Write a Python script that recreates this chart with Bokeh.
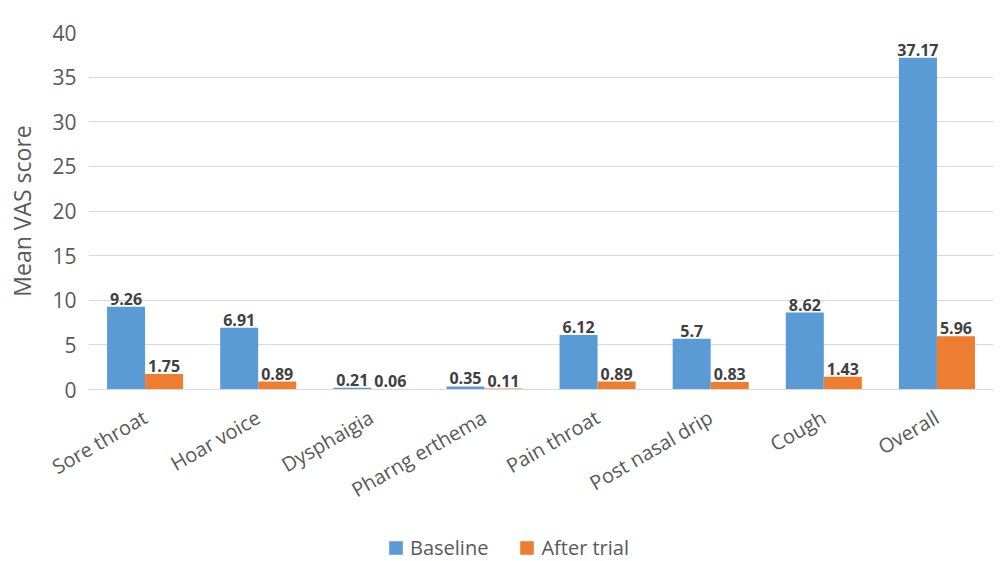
import math
from bokeh.plotting import figure
from bokeh.layouts import column
from bokeh.models import ColumnDataSource, Legend, LegendItem, FactorRange
from bokeh.transform import dodge
from bokeh.core.properties import value
from bokeh.embed import file_html
from bokeh.resources import INLINE

categories = ["Sore throat", "Hoar voice", "Dysphaigia", "Pharng erthema",
              "Pain throat", "Post nasal drip", "Cough", "Overall"]
baseline = [9.26, 6.91, 0.21, 0.35, 6.12, 5.7, 8.62, 37.17]
after_trial = [1.75, 0.89, 0.06, 0.11, 0.89, 0.83, 1.43, 5.96]
y_ticks = [0, 5, 10, 15, 20, 25, 30, 35, 40]
series_names = ["Baseline", "After trial"]

FONT = "Open Sans"
BLUE = "#5B9BD5"
ORANGE = "#ED7D31"
TEXT = "#595959"

src = ColumnDataSource(dict(
    cat=categories,
    base=baseline,
    after=after_trial,
    base_lbl=[f"{v:g}" for v in baseline],
    after_lbl=[f"{v:g}" for v in after_trial],
))

# main chart
p = figure(width=1002, height=520,
           x_range=FactorRange(*categories, range_padding=0),
           y_range=(0, 40), output_backend="svg", toolbar_location=None,
           min_border_left=88, min_border_right=9, min_border_top=32,
           min_border_bottom=131)
p.outline_line_color = None

bw = 0.336
p.vbar(x=dodge("cat", -bw / 2, range=p.x_range), top="base", width=bw,
       source=src, fill_color=BLUE, line_color=None)
p.vbar(x=dodge("cat", bw / 2, range=p.x_range), top="after", width=bw,
       source=src, fill_color=ORANGE, line_color=None)

for off, col, lbl in [(-bw / 2, "base", "base_lbl"), (bw / 2, "after", "after_lbl")]:
    p.text(x=dodge("cat", off, range=p.x_range), y=col, text=lbl, source=src,
           text_font=value(FONT), text_font_style="bold", text_font_size="16px",
           text_color="#404040", text_align="center", text_baseline="bottom",
           y_offset=-2)

p.xgrid.grid_line_color = None
p.ygrid.grid_line_color = "#D9D9D9"
p.ygrid.grid_line_width = 1.2
p.yaxis.ticker = y_ticks

p.yaxis.axis_line_color = None
p.yaxis.major_tick_line_color = None
p.yaxis.minor_tick_line_color = None
p.yaxis.major_label_text_font = FONT
p.yaxis.major_label_text_font_size = "21px"
p.yaxis.major_label_text_color = TEXT
p.yaxis.major_label_standoff = 6
p.yaxis.axis_label = "Mean VAS score"
p.yaxis.axis_label_text_font = FONT
p.yaxis.axis_label_text_font_size = "23px"
p.yaxis.axis_label_text_font_style = "normal"
p.yaxis.axis_label_text_color = TEXT
p.yaxis.axis_label_standoff = 11

p.xaxis.axis_line_color = "#D9D9D9"
p.xaxis.axis_line_width = 1.2
p.xaxis.major_tick_line_color = None
p.xaxis.minor_tick_line_color = None
p.xaxis.major_label_orientation = math.pi / 6
p.xaxis.major_label_text_font = FONT
p.xaxis.major_label_text_font_size = "20px"
p.xaxis.major_label_text_color = TEXT
p.xaxis.major_label_standoff = 20

# legend strip underneath (frame is aligned with the chart frame above)
lg = figure(width=1002, height=41, x_range=(0, 1), y_range=(0, 1),
            output_backend="svg", toolbar_location=None,
            x_axis_location=None, y_axis_location=None, min_border=0)
lg.outline_line_color = None
lg.grid.visible = False
# zero-size keys: they only supply the swatch styling for the legend
k1 = lg.vbar(x=[0], top=[0], width=0, fill_color=BLUE, line_color=None)
k2 = lg.vbar(x=[0], top=[0], width=0, fill_color=ORANGE, line_color=None)

legend = Legend(items=[LegendItem(label=series_names[0], renderers=[k1]),
                       LegendItem(label=series_names[1], renderers=[k2])],
                orientation="horizontal", location=(299, 0),
                label_text_font=FONT, label_text_font_size="20px",
                label_text_color=TEXT, glyph_width=17, glyph_height=17,
                label_standoff=6, spacing=30, border_line_color=None,
                background_fill_alpha=0, margin=0, padding=1)
lg.add_layout(legend, "center")

open("out.html", "w").write(file_html(column(p, lg, spacing=0), INLINE))
